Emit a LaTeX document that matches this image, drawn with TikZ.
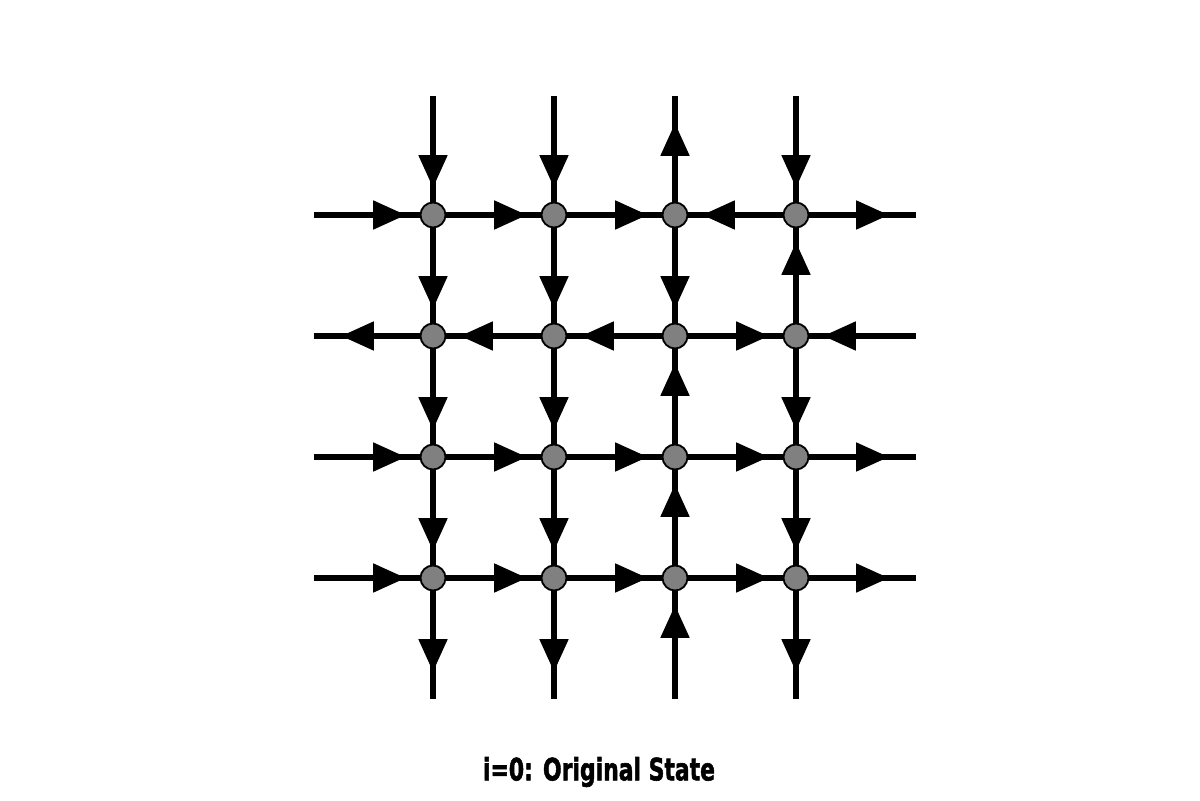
\documentclass[tikz,border=0pt]{standalone}
\usepackage{fontspec}
\usepackage{graphicx}
\usetikzlibrary{arrows.meta,decorations.markings,backgrounds}
\newfontfamily\capfont{DejaVu Sans}[FakeBold=2]
\definecolor{ng}{RGB}{128,128,128}

\begin{document}
\begin{tikzpicture}[
  site/.style={circle, draw=black, line width=1.3pt, fill=ng, minimum size=0.625cm, inner sep=0pt},
  link/.style={line width=0.15cm, color=black, postaction={decorate},
    decoration={markings, mark=at position -0.675cm with {\arrow{Triangle[length=0.82cm, width=0.69cm]}}}}
]
\useasboundingbox (0,0) rectangle (30,20);
% lattice sites
\foreach \r/\y in {1/14.625,2/11.6,3/8.575,4/5.55}
  \foreach \c/\x in {1/10.825,2/13.85,3/16.875,4/19.9}
    \node[site] (n\r\c) at (\x,\y) {};
% free ends of the boundary links
\foreach \r/\y in {1/14.625,2/11.6,3/8.575,4/5.55} {
  \coordinate (L\r) at (7.85,\y);
  \coordinate (R\r) at (22.9,\y);
}
\foreach \c/\x in {1/10.825,2/13.85,3/16.875,4/19.9} {
  \coordinate (T\c) at (\x,17.6);
  \coordinate (B\c) at (\x,2.525);
}
\begin{scope}[on background layer]
\fill[white] (0,0) rectangle (30,20);
% horizontal links, drawn in the arrow's direction
\foreach \a/\b in {L1/n11, n11/n12, n12/n13, n14/n13, n14/R1,
                   n21/L2, n22/n21, n23/n22, n23/n24, R2/n24,
                   L3/n31, n31/n32, n32/n33, n33/n34, n34/R3,
                   L4/n41, n41/n42, n42/n43, n43/n44, n44/R4}
  \draw[link] (\a.center) -- (\b.center);
% vertical links
\foreach \a/\b in {T1/n11, n11/n21, n21/n31, n31/n41, n41/B1,
                   T2/n12, n12/n22, n22/n32, n32/n42, n42/B2,
                   n13/T3, n13/n23, n33/n23, n43/n33, B3/n43,
                   T4/n14, n24/n14, n24/n34, n34/n44, n44/B4}
  \draw[link] (\a.center) -- (\b.center);
\end{scope}
% caption
\node (cap) at (14.975,0.7) {\resizebox*{5.8cm}{0.75cm}{\capfont\bfseries i=0: Original State}};
\end{tikzpicture}
\end{document}
